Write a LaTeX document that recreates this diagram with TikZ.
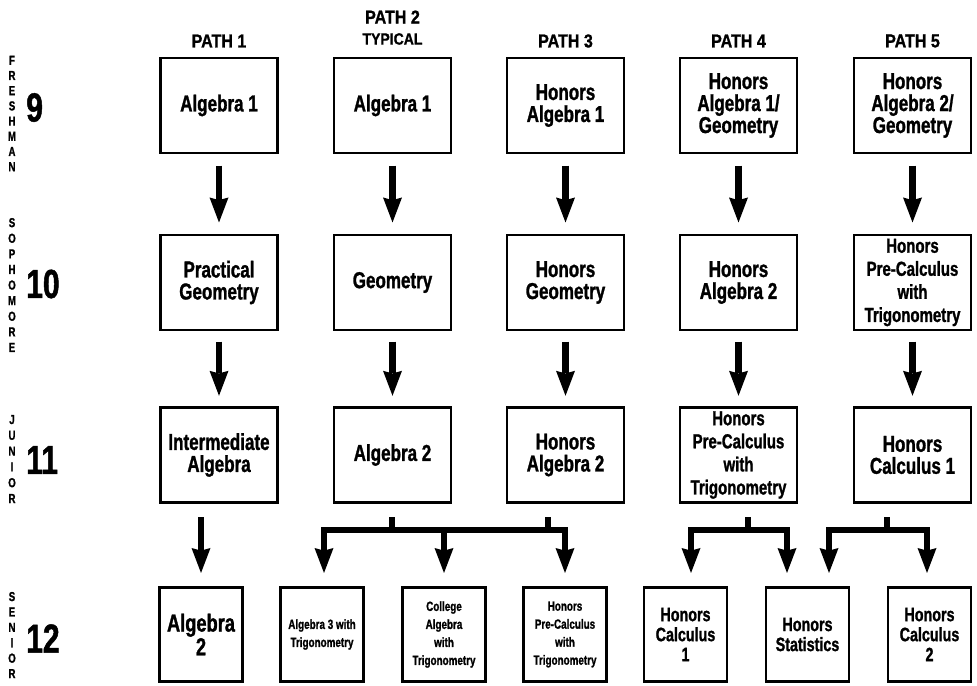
\documentclass[tikz,border=0pt]{standalone}
\usepackage{fontspec}
\setmainfont{Liberation Sans}
\newfontfamily\coursefont[FakeStretch=0.74, FakeBold=1.2]{Liberation Sans}
\newfontfamily\headfont[FakeStretch=0.86, FakeBold=1.0]{Liberation Sans}
\usetikzlibrary{arrows.meta}
\tikzset{
  course/.style={draw=black, line width=2.2pt, fill=white, inner sep=0pt, outer sep=0pt,
    minimum width=87.75pt, minimum height=71.25pt, align=center, text=black,
    font=\coursefont\bfseries\fontsize{17.25}{16.5}\selectfont},
  senior/.style={course, minimum width=62.25pt, minimum height=70.5pt},
  midtext/.style={font=\coursefont\bfseries\fontsize{15.2}{17.3}\selectfont},
  bigsen/.style={font=\coursefont\bfseries\fontsize{18.5}{15}\selectfont},
  calcsen/.style={font=\coursefont\bfseries\fontsize{14.5}{15}\selectfont},
  smallsen/.style={font=\coursefont\bfseries\fontsize{10}{13.5}\selectfont},
  hdr/.style={inner sep=0pt, font=\headfont\bfseries\fontsize{14}{16}\selectfont},
  subhdr/.style={inner sep=0pt, font=\headfont\bfseries\fontsize{12.2}{14}\selectfont},
  gradelbl/.style={inner sep=0pt, align=center, font=\coursefont\bfseries\fontsize{9.8}{11.4}\selectfont},
  gradenum/.style={inner sep=0pt, anchor=west, font=\coursefont\bfseries\fontsize{30.4}{32}\selectfont},
  tipstyle/.tip={Stealth[length=18.75pt, width=14.25pt, inset=2pt, line width=0pt]},
  arr/.style={line width=5pt, -tipstyle, line join=miter},
  barr/.style={line width=5pt, tipstyle-tipstyle, line join=miter},
  shaft/.style={line width=5pt}
}
\begin{document}
\begin{tikzpicture}[x=0.75pt,y=-0.75pt]
\useasboundingbox (0,0) rectangle (977,685);

% headers
\node[hdr] (p1) at (219,41) {PATH 1};
\node[hdr] (p2) at (392.5,17) {PATH 2};
\node[subhdr] (p2t) at (392.5,39) {TYPICAL};
\node[hdr] (p3) at (565.5,41) {PATH 3};
\node[hdr] (p4) at (738.5,41) {PATH 4};
\node[hdr] (p5) at (912.5,41) {PATH 5};

% grade labels
\node[gradelbl] (g9) at (12,113.5) {F\\R\\E\\S\\H\\M\\A\\N};
\node[gradenum] (n9) at (26,107.5) {9};
\node[gradelbl, font=\coursefont\bfseries\fontsize{9.8}{11.7}\selectfont] (g10) at (12,285) {S\\O\\P\\H\\O\\M\\O\\R\\E};
\node[gradenum] (n10) at (26,284) {10};
\node[gradelbl, font=\coursefont\bfseries\fontsize{9.8}{11.85}\selectfont] (g11) at (12,459) {J\\U\\N\\I\\O\\R};
\node[gradenum] (n11) at (26,460) {11};
\node[gradelbl, font=\coursefont\bfseries\fontsize{9.8}{11.55}\selectfont] (g12) at (12,635) {S\\E\\N\\I\\O\\R};
\node[gradenum] (n12) at (26,638.5) {12};

% row 1
\node[course] (b11) at (219,105.5) {Algebra 1};
\node[course] (b12) at (392.5,105.5) {Algebra 1};
\node[course] (b13) at (565.5,105.5) {Honors\\Algebra 1};
\node[course] (b14) at (738.5,105.5) {Honors\\Algebra 1/\\Geometry};
\node[course] (b15) at (912.5,105.5) {Honors\\Algebra 2/\\Geometry};

% row 2
\node[course] (b21) at (219,282.5) {Practical\\Geometry};
\node[course] (b22) at (392.5,282.5) {Geometry};
\node[course] (b23) at (565.5,282.5) {Honors\\Geometry};
\node[course] (b24) at (738.5,282.5) {Honors\\Algebra 2};
\node[course, midtext] (b25) at (912.5,282.5) {Honors\\Pre-Calculus\\with\\Trigonometry};

% row 3
\node[course] (b31) at (219,455) {Intermediate\\Algebra};
\node[course] (b32) at (392.5,455) {Algebra 2};
\node[course] (b33) at (565.5,455) {Honors\\Algebra 2};
\node[course, midtext] (b34) at (738.5,455) {Honors\\Pre-Calculus\\with\\Trigonometry};
\node[course] (b35) at (912.5,455) {Honors\\Calculus 1};

% row 4
\node[senior, bigsen] (s1) at (201,634.5) {Algebra\\2};
\node[senior, smallsen] (s2) at (322,634.5) {Algebra 3 with\\Trigonometry};
\node[senior, smallsen] (s3) at (444,634.5) {College\\Algebra\\with\\Trigonometry};
\node[senior, smallsen] (s4) at (565,634.5) {Honors\\Pre-Calculus\\with\\Trigonometry};
\node[senior, calcsen] (s5) at (685.5,634.5) {Honors\\Calculus\\1};
\node[senior, calcsen] (s6) at (807.5,634.5) {Honors\\Statistics};
\node[senior, calcsen] (s7) at (929.5,634.5) {Honors\\Calculus\\2};

% row 1 -> row 2, row 2 -> row 3
\foreach \i in {1,...,5}{
  \draw[arr, shorten <=9.4pt, shorten >=9.4pt] (b1\i.south) -- (b2\i.north);
  \draw[arr, shorten <=8.8pt, shorten >=8.8pt] (b2\i.south) -- (b3\i.north);
}

% row 3 -> row 4
\draw[arr, shorten <=10.9pt, shorten >=10.9pt] (s1.north |- b31.south) -- (s1.north);

% branch paths 2 and 3
\coordinate (j2L) at (324,530);
\coordinate (j2M) at (444,530);
\coordinate (j2R) at (565,530);
\coordinate (t2) at (392,530);
\coordinate (t3) at (548,530);
\draw[shaft, shorten <=10.9pt] (t2 |- b32.south) -- (t2);
\draw[shaft, shorten <=10.9pt] (t3 |- b33.south) -- (t3);
\draw[barr, shorten <=10.9pt, shorten >=10.9pt] (j2L |- s2.north) -- (j2L) -- (j2R) -- (j2R |- s4.north);
\draw[arr, shorten >=10.9pt] (j2M) -- (j2M |- s3.north);

% branch path 4
\coordinate (j4L) at (691,530);
\coordinate (j4R) at (787,530);
\coordinate (t4) at (748,530);
\draw[shaft, shorten <=10.9pt] (t4 |- b34.south) -- (t4);
\draw[barr, shorten <=10.9pt, shorten >=10.9pt] (j4L |- s5.north) -- (j4L) -- (j4R) -- (j4R |- s6.north);

% branch path 5
\coordinate (j5L) at (829,530);
\coordinate (j5R) at (927,530);
\coordinate (t5) at (887,530);
\draw[shaft, shorten <=10.9pt] (t5 |- b35.south) -- (t5);
\draw[barr, shorten <=10.9pt, shorten >=10.9pt] (j5L |- s6.north) -- (j5L) -- (j5R) -- (j5R |- s7.north);
\end{tikzpicture}
\end{document}
